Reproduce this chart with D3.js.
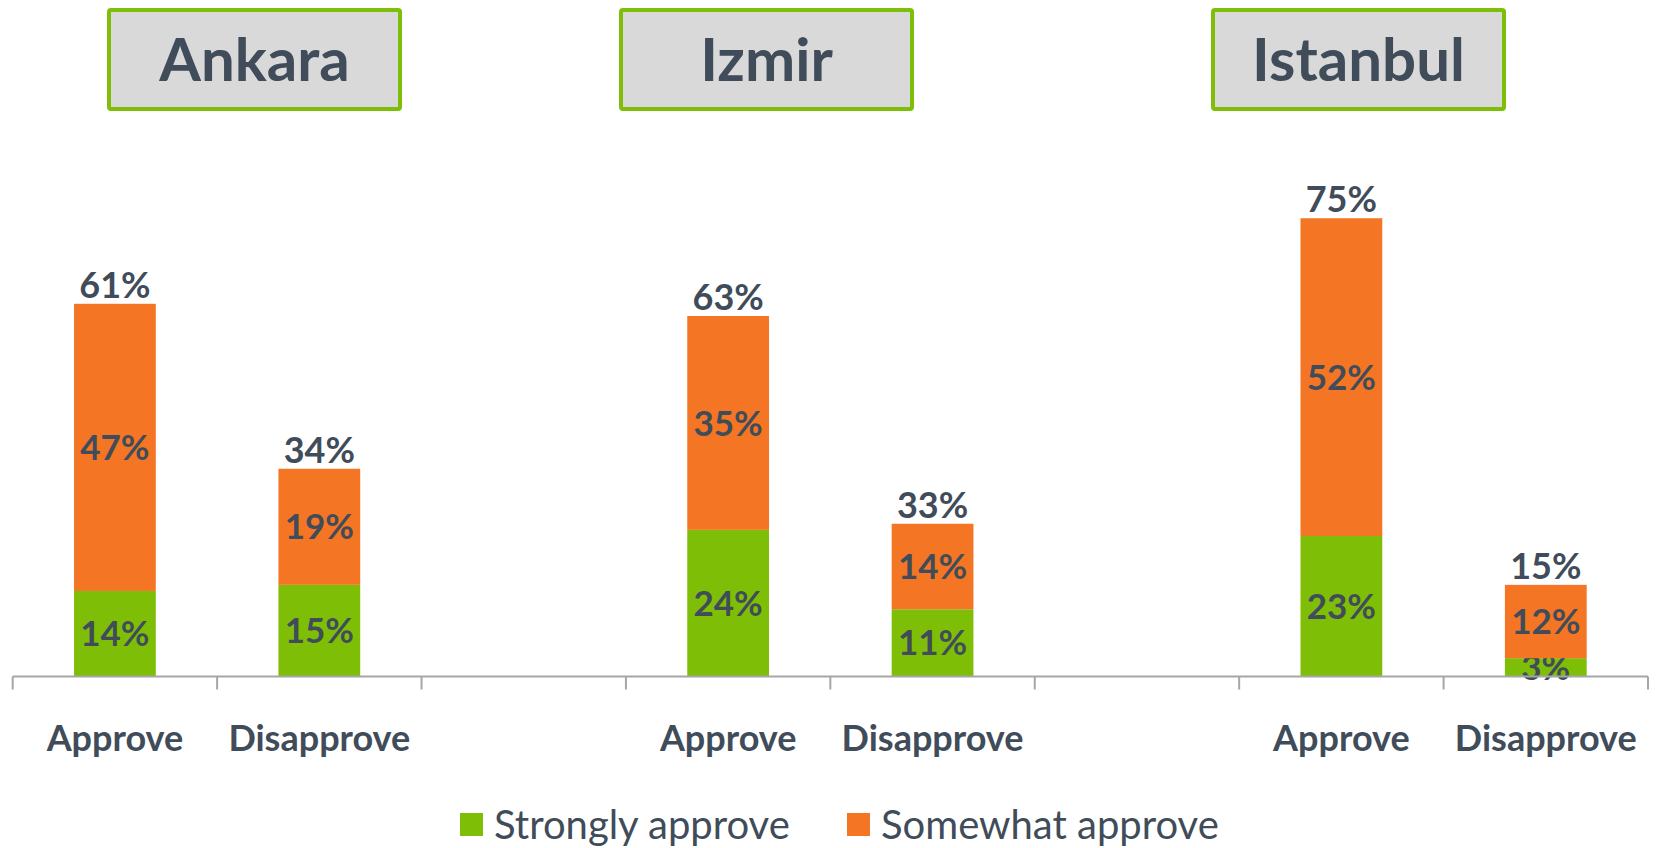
<!DOCTYPE html>
<html>
<head>
<meta charset="utf-8">
<script src="https://cdn.jsdelivr.net/npm/d3@7"></script>
<style>
  html, body { margin: 0; padding: 0; background: #ffffff; }
  svg { display: block; }
</style>
</head>
<body>
<svg id="chart" width="1660" height="848"></svg>
<script>
// ---- data ----
const cities = ["Ankara", "Izmir", "Istanbul"];
const responses = ["Approve", "Disapprove"];
const stronglyApprove = [14, 15, 24, 11, 23, 3];   // per city x response
const somewhatApprove = [47, 19, 35, 14, 52, 12];
const totalLabels = [61, 34, 63, 33, 75, 15];
const seriesNames = ["Strongly approve", "Somewhat approve"];

// ---- style / layout ----
const colors = { "Strongly approve": "#7fbe07", "Somewhat approve": "#f47524" };
const textColor = "#404c59";
const font = "Lato, 'Open Sans', sans-serif";
const titleBoxes = [ {x: 109, y: 10, w: 291, h: 99}, {x: 621, y: 10, w: 291, h: 99}, {x: 1213, y: 10, w: 291, h: 99} ];

const svg = d3.select("#chart");

// build category list with blank gaps between cities
const categories = [];
const rows = [];
cities.forEach((c, ci) => {
  responses.forEach((r, ri) => {
    const i = ci * responses.length + ri;
    const key = c + "|" + r;
    categories.push(key);
    rows.push({ key, label: r, strong: stronglyApprove[i], somewhat: somewhatApprove[i], total: totalLabels[i] });
  });
  if (ci < cities.length - 1) categories.push("gap" + ci);
});

const x = d3.scaleBand().domain(categories).range([12.7, 1648]).paddingInner(0.6).paddingOuter(0.3);
const y = d3.scaleLinear().domain([0, 100]).range([676.5, 65.5]);

const stack = d3.stack().keys(["strong", "somewhat"]);
const stacked = stack(rows);

// bars
const g = svg.append("g");
stacked.forEach((layer, li) => {
  const name = seriesNames[li];
  g.selectAll(".bar" + li).data(layer).join("rect")
    .attr("x", d => x(d.data.key))
    .attr("width", x.bandwidth())
    .attr("y", d => y(d[1]))
    .attr("height", d => y(d[0]) - y(d[1]))
    .attr("fill", colors[name]);
  g.selectAll(".lab" + li).data(layer).join("text")
    .attr("x", d => x(d.data.key) + x.bandwidth() / 2)
    .attr("y", d => (y(d[0]) + y(d[1])) / 2)
    .attr("dy", "0.36em")
    .attr("text-anchor", "middle")
    .attr("font-family", font).attr("font-weight", 700).attr("font-size", 35)
    .attr("fill", textColor)
    .text(d => (d[1] - d[0]) + "%");
});

// total labels above bars
g.selectAll(".tot").data(rows).join("text")
  .attr("x", d => x(d.key) + x.bandwidth() / 2)
  .attr("y", d => y(d.strong + d.somewhat) - 6)
  .attr("text-anchor", "middle")
  .attr("font-family", font).attr("font-weight", 700).attr("font-size", 36)
  .attr("fill", textColor)
  .text(d => d.total + "%");

// axis
const axisY = y(0);
const r0 = x.range()[0], r1 = x.range()[1];
svg.append("line").attr("x1", r0).attr("x2", r1).attr("y1", axisY).attr("y2", axisY)
  .attr("stroke", "#a6a6a6").attr("stroke-width", 2);
const boundaries = d3.range(categories.length + 1).map(i => r0 + i * x.step());
svg.selectAll(".tick-b").data(boundaries).join("line")
  .attr("x1", d => d).attr("x2", d => d).attr("y1", axisY).attr("y2", axisY + 13)
  .attr("stroke", "#a6a6a6").attr("stroke-width", 2);

const axis = d3.axisBottom(x).tickSize(0)
  .tickFormat(k => k.startsWith("gap") ? "" : k.split("|")[1]);
const ax = svg.append("g").attr("transform", `translate(0,${axisY})`).call(axis);
ax.select(".domain").remove();
ax.selectAll("text")
  .attr("y", 62).attr("dy", "0.36em")
  .attr("font-family", font).attr("font-weight", 700).attr("font-size", 36)
  .attr("fill", textColor);

// city title boxes
cities.forEach((c, i) => {
  const b = titleBoxes[i];
  svg.append("rect").attr("x", b.x).attr("y", b.y).attr("width", b.w).attr("height", b.h)
    .attr("fill", "#d9d9d9").attr("stroke", "#7fbe07").attr("stroke-width", 4).attr("rx", 2);
  svg.append("text").attr("x", b.x + b.w / 2).attr("y", b.y + b.h / 2).attr("dy", "0.36em")
    .attr("text-anchor", "middle")
    .attr("font-family", font).attr("font-weight", 700).attr("font-size", 60)
    .attr("fill", textColor).text(c);
});

// legend
const legendItems = [ {name: seriesNames[0], x: 460}, {name: seriesNames[1], x: 847} ];
const lg = svg.append("g");
legendItems.forEach(it => {
  lg.append("rect").attr("x", it.x).attr("y", 813).attr("width", 23).attr("height", 23)
    .attr("fill", colors[it.name]);
  lg.append("text").attr("x", it.x + 34).attr("y", 825).attr("dy", "0.36em")
    .attr("font-family", font).attr("font-weight", 400).attr("font-size", 40)
    .attr("fill", textColor).text(it.name);
});
</script>
</body>
</html>
